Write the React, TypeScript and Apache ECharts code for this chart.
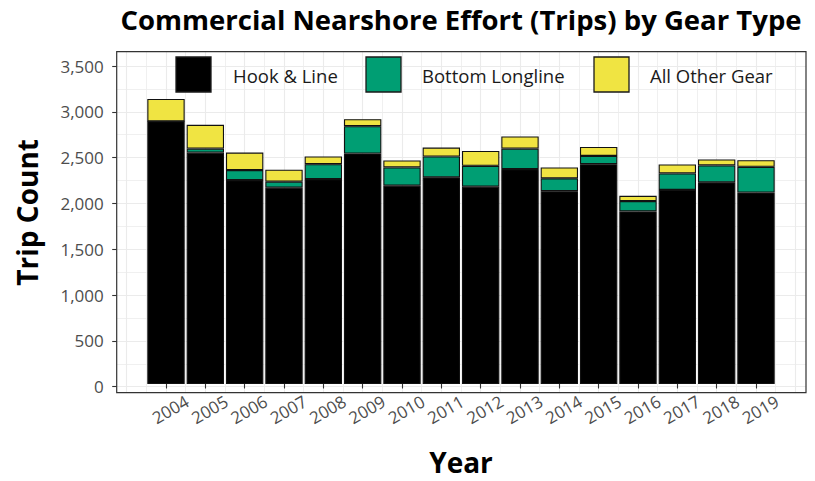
import React, { useEffect, useRef } from "react";
import * as echarts from "echarts";

const years = ["2004", "2005", "2006", "2007", "2008", "2009", "2010", "2011", "2012", "2013", "2014", "2015", "2016", "2017", "2018", "2019"];
const hookLine = [2892, 2547, 2245, 2161, 2256, 2537, 2183, 2275, 2172, 2365, 2122, 2420, 1899, 2136, 2220, 2107];
const bottomLongline = [0, 44, 109, 66, 164, 301, 201, 229, 229, 226, 142, 90, 114, 182, 186, 283];
const otherGear = [245, 262, 193, 131, 84, 76, 76, 98, 164, 134, 120, 99, 58, 99, 65, 73];
const seriesNames = ["Hook & Line", "Bottom Longline", "All Other Gear"];
const seriesColors = ["#000000", "#009E73", "#F0E442"];
const yMin = 0;
const yMax = 3500;
const yStep = 500;

const FONT = "Open Sans";

function fmt(v: number): string {
  return String(v).replace(/\B(?=(\d{3})+(?!\d))/g, ",");
}

export default function App() {
  const ref = useRef<HTMLDivElement>(null);
  useEffect(() => {
    document.body.style.margin = "0";
    if (!ref.current) return;
    const chart = echarts.init(ref.current, undefined, { renderer: "svg" });
    const seriesData = [hookLine, bottomLongline, otherGear];
    const legendX = [176, 366, 594];
    const legendTextX = [233, 422, 650];
    const legendEls: any[] = [];
    seriesNames.forEach((name, i) => {
      legendEls.push({
        type: "rect",
        shape: { x: legendX[i], y: 57, width: 35, height: 35 },
        style: { fill: seriesColors[i], stroke: "#1a1a1a", lineWidth: 1.3 },
        z: 50,
      });
      legendEls.push({
        type: "text",
        x: legendTextX[i],
        y: 75,
        style: {
          text: name,
          font: `18.5px "${FONT}"`,
          fill: "#1a1a1a",
          verticalAlign: "middle",
          align: "left",
        },
        z: 50,
      });
    });
    const option: any = {
      animation: false,
      textStyle: { fontFamily: FONT },
      title: {
        text: "Commercial Nearshore Effort (Trips) by Gear Type",
        left: 461,
        textAlign: "center",
        top: 5,
        padding: 0,
        textStyle: { fontFamily: FONT, fontWeight: "bold", fontSize: 27.5, color: "#000" },
      },
      grid: [
        { left: 126.67, right: 19.67, top: 51.7, bottom: 88.3 },
        { left: 116.7, right: 9, top: 66, bottom: 94.3 },
        { left: 146.33, right: 39.33, top: 66, bottom: 94.3 },
      ],
      xAxis: [
        {
          gridIndex: 0,
          type: "value",
          min: 2003,
          max: 2020,
          interval: 1,
          axisLine: { show: false },
          axisTick: { show: false },
          axisLabel: { show: false },
          splitLine: { show: true, lineStyle: { color: "#ebebeb", width: 1.1 } },
          minorTick: { show: false, splitNumber: 2 },
          minorSplitLine: { show: true, lineStyle: { color: "#ececec", width: 0.8 } },
        },
        { gridIndex: 1, type: "value", show: false },
        {
          gridIndex: 2,
          type: "category",
          data: years,
          offset: 6,
          axisLine: { show: false },
          axisTick: { show: true, interval: 0, alignWithLabel: true, length: 4.5, lineStyle: { color: "#333333", width: 1.1 } },
          axisLabel: {
            interval: 0,
            hideOverlap: false,
            rotate: 30,
            margin: 12,
            align: "center",
            verticalAlign: "top",
            color: "#4d4d4d",
            fontSize: 17,
            fontFamily: FONT,
          },
          splitLine: { show: false },
          name: "Year",
          nameLocation: "middle",
          nameGap: 58,
          nameTextStyle: { fontFamily: FONT, fontWeight: "bold", fontSize: 28, color: "#000" },
        },
      ],
      yAxis: [
        { gridIndex: 0, type: "value", show: false },
        {
          gridIndex: 1,
          type: "value",
          min: yMin,
          max: yMax,
          interval: yStep,
          axisLine: { show: false },
          axisTick: { show: true, length: 4.5, lineStyle: { color: "#333333", width: 1.1 } },
          axisLabel: { margin: 13, color: "#4d4d4d", fontSize: 17, fontFamily: FONT, formatter: (v: number) => fmt(v) },
          splitLine: { show: true, lineStyle: { color: "#ebebeb", width: 1.1 } },
          minorTick: { show: false, splitNumber: 2 },
          minorSplitLine: { show: true, lineStyle: { color: "#ececec", width: 0.8 } },
          name: "Trip Count",
          nameLocation: "middle",
          nameGap: 76,
          nameRotate: 90,
          nameTextStyle: { fontFamily: FONT, fontWeight: "bold", fontSize: 28, color: "#000", padding: [0, 0, 0, 28] },
        },
        { gridIndex: 2, type: "value", min: yMin, max: yMax, show: false },
      ],
      series: seriesNames.map((name, i) => ({
        name,
        type: "bar",
        stack: "total",
        xAxisIndex: 2,
        yAxisIndex: 2,
        barWidth: "95%",
        data: seriesData[i],
        itemStyle: { color: seriesColors[i], borderColor: "#111111", borderWidth: 1.1 },
      })),
      graphic: [
        {
          type: "rect",
          shape: { x: 116.7, y: 51.7, width: 689.3, height: 341 },
          style: { fill: "none", stroke: "#333333", lineWidth: 1.2 },
          z: 40,
        },
        ...legendEls,
      ],
    };
    chart.setOption(option);
    return () => chart.dispose();
  }, []);
  return <div ref={ref} style={{ width: 815, height: 481 }} />;
}
